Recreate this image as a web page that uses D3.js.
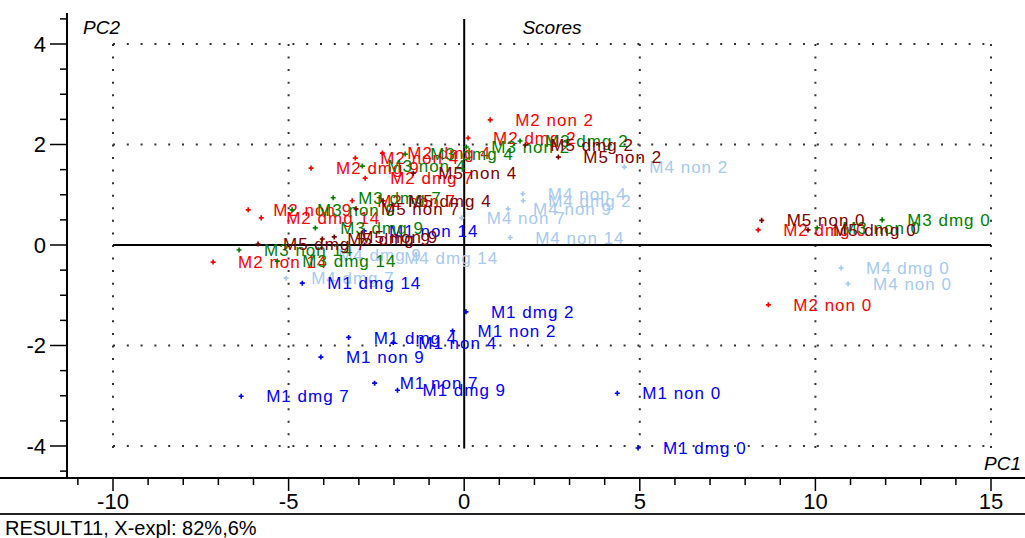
<!DOCTYPE html>
<html>
<head>
<meta charset="utf-8">
<script src="https://cdn.jsdelivr.net/npm/d3@7"></script>
<style>
body { margin: 0; background: #fff; }
.tick-label { font-family: "Liberation Sans Narrow", "Arial Narrow", "Liberation Sans", sans-serif; font-size: 22px; fill: #000; }
.pt-label { font-family: "Liberation Sans", Arial, sans-serif; font-size: 17px; letter-spacing: 1px; }
.axis-title { font-family: "Liberation Sans Narrow", "Arial Narrow", "Liberation Sans", sans-serif; font-style: italic; font-size: 19px; fill: #000; }
</style>
</head>
<body>
<div id="chart-area"></div>
<script>
// score data, one array per series
let m4Names = ["M4 dmg 0", "M4 non 0", "M4 non 2", "M4 non 4", "M4 dmg 2", "M4 non 9", "M4 non 7", "M4 non 14", "M4 dmg 14", "M4 dmg 7", "M4 dmg 9"];
let m4PC1 = [10.73, 10.93, 4.56, 1.67, 1.68, 1.25, -0.07, 1.31, -2.42, -5.07, -4.30];
let m4PC2 = [-0.46, -0.77, 1.55, 1.02, 0.88, 0.72, 0.54, 0.15, -0.26, -0.66, -0.20];

let m2Names = ["M2 non 0", "M2 dmg 0", "M2 non 2", "M2 dmg 2", "M2 non 4", "M2 dmg 4", "M2 non 7", "M2 dmg 7", "M2 non 9", "M2 dmg 9", "M2 non 14", "M2 dmg 14"];
let m2PC1 = [8.66, 8.37, 0.74, 0.11, -3.10, -2.33, -3.19, -2.82, -6.15, -4.36, -7.15, -5.78];
let m2PC2 = [-1.19, 0.30, 2.49, 2.13, 1.73, 1.83, 0.88, 1.33, 0.70, 1.53, -0.34, 0.54];

let m1Names = ["M1 dmg 0", "M1 non 0", "M1 dmg 2", "M1 non 2", "M1 dmg 4", "M1 non 4", "M1 dmg 7", "M1 non 7", "M1 dmg 9", "M1 non 9", "M1 dmg 14", "M1 non 14"];
let m1PC1 = [4.95, 4.36, 0.05, -0.33, -3.29, -2.02, -6.35, -2.55, -1.90, -4.08, -4.61, -2.85];
let m1PC2 = [-4.04, -2.95, -1.33, -1.71, -1.84, -1.94, -3.01, -2.75, -2.89, -2.23, -0.76, 0.28];

let m3Names = ["M3 dmg 0", "M3 non 0", "M3 non 2", "M3 dmg 2", "M3 dmg 4", "M3 non 4", "M3 dmg 7", "M3 non 9", "M3 dmg 9", "M3 non 14", "M3 dmg 14"];
let m3PC1 = [11.90, 10.05, 0.06, 1.59, -1.68, -2.90, -3.73, -4.90, -4.24, -6.41, -5.32];
let m3PC2 = [0.50, 0.34, 1.95, 2.07, 1.81, 1.57, 0.94, 0.70, 0.34, -0.10, -0.32];

let m5Names = ["M5 non 0", "M5 dmg 0", "M5 non 2", "M5 dmg 2", "M5 non 4", "M5 dmg 4", "M5 non 7", "M5 dmg 7", "M5 dmg 9", "M5 non 9"];
let m5PC1 = [8.47, 9.79, 2.68, 1.74, -1.45, -2.31, -3.08, -5.87, -4.04, -3.70];
let m5PC2 = [0.49, 0.30, 1.75, 1.99, 1.43, 0.88, 0.72, 0.02, 0.12, 0.16];

let xMajorTicks = [-10, -5, 0, 5, 10, 15];
let yMajorTicks = [-4, -2, 0, 2, 4];
let xGridLines = [-10, -5, 5, 10, 15];
let yGridLines = [-4, -2, 2, 4];

// colours per series (drawing order matches the reference overlaps)
let series = [
	{names: m4Names, pc1: m4PC1, pc2: m4PC2, color: "#a6caf0"},
	{names: m2Names, pc1: m2PC1, pc2: m2PC2, color: "#ff0000"},
	{names: m1Names, pc1: m1PC1, pc2: m1PC2, color: "#0000ff"},
	{names: m3Names, pc1: m3PC1, pc2: m3PC2, color: "#008000"},
	{names: m5Names, pc1: m5PC1, pc2: m5PC2, color: "#800000"}
];

let W = 1025, H = 538;
let axisY = 478, footerY = 514, axisX = 67;

let svg = d3.select("#chart-area")
	.append("svg")
	.attr("width", W)
	.attr("height", H)
	.style("display", "block");

svg.append("rect").attr("width", W).attr("height", H).attr("fill", "#fff");

// Scales
let x = d3.scaleLinear().domain([-10, 15]).range([113, 991]);
let y = d3.scaleLinear().domain([-4, 4]).range([446, 44]);

// dotted grid
svg.selectAll(".hgrid")
	.data(yGridLines)
	.enter().append("line")
	.attr("class", "hgrid")
	.attr("x1", x(-10)).attr("x2", x(15) + 2)
	.attr("y1", d => y(d)).attr("y2", d => y(d))
	.attr("stroke", "#333")
	.attr("stroke-width", 2)
	.attr("stroke-dasharray", "2 11.8");

svg.selectAll(".vgrid")
	.data(xGridLines)
	.enter().append("line")
	.attr("class", "vgrid")
	.attr("x1", d => x(d)).attr("x2", d => x(d))
	.attr("y1", y(4)).attr("y2", y(-4) + 2)
	.attr("stroke", "#333")
	.attr("stroke-width", 2)
	.attr("stroke-dasharray", "2 10.56");

// zero lines
svg.append("line")
	.attr("x1", x(-10)).attr("x2", x(15))
	.attr("y1", y(0)).attr("y2", y(0))
	.attr("stroke", "#000").attr("stroke-width", 2);
svg.append("line")
	.attr("x1", x(0)).attr("x2", x(0))
	.attr("y1", y(4.5)).attr("y2", y(-4.05))
	.attr("stroke", "#000").attr("stroke-width", 2);

// left axis
svg.append("line")
	.attr("x1", axisX).attr("x2", axisX)
	.attr("y1", 13).attr("y2", axisY)
	.attr("stroke", "#000").attr("stroke-width", 2);

let yMinor = d3.range(-4.5, 4.51, 0.5);
svg.selectAll(".ytick")
	.data(yMinor)
	.enter().append("line")
	.attr("class", "ytick")
	.attr("x1", d => yMajorTicks.includes(d) ? axisX - 17 : axisX - 7)
	.attr("x2", axisX)
	.attr("y1", d => y(d)).attr("y2", d => y(d))
	.attr("stroke", "#000").attr("stroke-width", 1.5);

svg.selectAll(".ylabel")
	.data(yMajorTicks)
	.enter().append("text")
	.attr("class", "tick-label")
	.attr("x", 46)
	.attr("y", d => y(d))
	.attr("dy", "0.36em")
	.attr("text-anchor", "end")
	.text(d => d);

// bottom axis
svg.append("line")
	.attr("x1", 0).attr("x2", W)
	.attr("y1", axisY).attr("y2", axisY)
	.attr("stroke", "#000").attr("stroke-width", 2);
svg.append("line")
	.attr("x1", 0).attr("x2", W)
	.attr("y1", footerY).attr("y2", footerY)
	.attr("stroke", "#222").attr("stroke-width", 2);

let xMinor = d3.range(-11, 16, 1);
svg.selectAll(".xtick")
	.data(xMinor)
	.enter().append("line")
	.attr("class", "xtick")
	.attr("x1", d => x(d)).attr("x2", d => x(d))
	.attr("y1", axisY)
	.attr("y2", d => xMajorTicks.includes(d) ? axisY + 13 : axisY + 7)
	.attr("stroke", "#000").attr("stroke-width", 1.5);

svg.selectAll(".xlabel")
	.data(xMajorTicks)
	.enter().append("text")
	.attr("class", "tick-label")
	.attr("x", d => x(d))
	.attr("y", 509)
	.attr("text-anchor", "middle")
	.text(d => d);

// titles
svg.append("text").attr("class", "axis-title").attr("x", 83).attr("y", 34).text("PC2");
svg.append("text").attr("class", "axis-title").attr("x", 552).attr("y", 34).attr("text-anchor", "middle").text("Scores");
svg.append("text").attr("class", "axis-title").attr("x", 1021).attr("y", 470).attr("text-anchor", "end").text("PC1");
svg.append("text").attr("class", "tick-label").attr("x", 5).attr("y", 535).style("font-size", "20px")
	.text("RESULT11, X-expl: 82%,6%");

// points and labels
let cross = d3.symbol().type(d3.symbolCross).size(14);

series.forEach(function(s) {
	let rows = s.names.map((n, i) => ({name: n, pc1: s.pc1[i], pc2: s.pc2[i]}));
	let g = svg.append("g");

	g.selectAll("path")
		.data(rows)
		.enter().append("path")
		.attr("d", cross)
		.attr("transform", d => "translate(" + x(d.pc1) + "," + y(d.pc2) + ")")
		.attr("fill", s.color);

	g.selectAll("text")
		.data(rows)
		.enter().append("text")
		.attr("class", "pt-label")
		.attr("x", d => x(d.pc1) + 25)
		.attr("y", d => y(d.pc2))
		.attr("dy", "0.36em")
		.attr("fill", s.color)
		.text(d => d.name);
});
</script>
</body>
</html>
